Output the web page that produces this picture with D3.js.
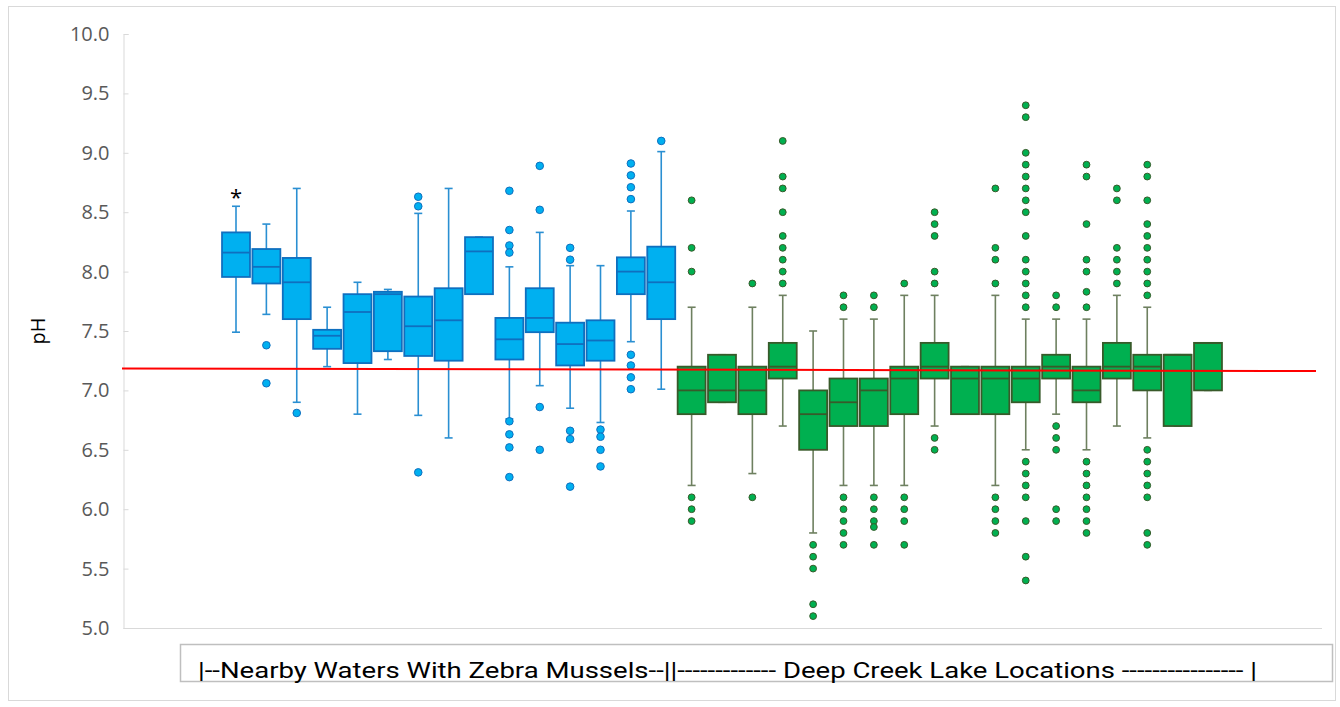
<!DOCTYPE html>
<html>
<head>
<meta charset="utf-8">
<script src="https://cdn.jsdelivr.net/npm/d3@7"></script>
<style>
  body { margin: 0; background: #fff; }
  svg { display: block; }
</style>
</head>
<body>
<div id="chart"></div>
<script>
// sites: first 15 are nearby waters with zebra mussels, last 18 are Deep Creek Lake
const sites = d3.range(1, 16).map(i => "N" + i).concat(d3.range(1, 19).map(i => "D" + i));
const siteGroup = sites.map(s => s[0] === "N" ? "nearby" : "lake");

const whiskerLow  = [7.49, 7.64, 6.90, 7.20, 6.80, 7.26, 6.79, 6.60, 7.81, 6.76, 7.04, 6.85, 6.73, 7.41, 7.01,
                     6.2, 6.9, 6.3, 6.7, 5.8, 6.2, 6.2, 6.2, 6.7, 6.8, 6.2, 6.5, 6.8, 6.5, 6.7, 6.6, 6.7, 7.0];
const q1          = [7.955, 7.90, 7.60, 7.35, 7.23, 7.33, 7.29, 7.25, 7.81, 7.26, 7.49, 7.21, 7.25, 7.81, 7.60,
                     6.8, 6.9, 6.8, 7.1, 6.5, 6.7, 6.7, 6.8, 7.1, 6.8, 6.8, 6.9, 7.1, 6.9, 7.1, 7.0, 6.7, 7.0];
const median      = [8.16, 8.04, 7.91, 7.46, 7.66, 7.81, 7.54, 7.59, 8.17, 7.43, 7.61, 7.39, 7.42, 8.00, 7.91,
                     7.0, 7.0, 7.0, 7.2, 6.8, 6.9, 7.0, 7.1, 7.2, 7.1, 7.1, 7.1, 7.2, 7.0, 7.2, 7.2, 7.3, 7.4];
const q3          = [8.33, 8.19, 8.115, 7.51, 7.81, 7.83, 7.79, 7.86, 8.29, 7.61, 7.86, 7.57, 7.59, 8.12, 8.21,
                     7.2, 7.3, 7.2, 7.4, 7.0, 7.1, 7.1, 7.2, 7.4, 7.2, 7.2, 7.2, 7.3, 7.2, 7.4, 7.3, 7.3, 7.4];
const whiskerHigh = [8.55, 8.40, 8.70, 7.70, 7.91, 7.85, 8.49, 8.70, 8.29, 8.04, 8.33, 8.05, 8.05, 8.51, 9.01,
                     7.7, 7.3, 7.7, 7.8, 7.5, 7.6, 7.6, 7.8, 7.8, 7.2, 7.8, 7.6, 7.6, 7.6, 7.8, 7.7, 7.3, 7.4];
const outliers = [
  [], [7.38, 7.06], [6.81], [], [], [], [8.63, 8.55, 6.31], [], [],
  [8.68, 8.35, 8.22, 8.16, 6.74, 6.63, 6.52, 6.27],
  [8.89, 8.52, 6.86, 6.50],
  [8.20, 8.10, 6.66, 6.59, 6.19],
  [6.67, 6.61, 6.50, 6.36],
  [8.91, 8.81, 8.71, 8.61, 7.30, 7.21, 7.11, 7.01],
  [9.10],
  [8.6, 8.2, 8.0, 6.1, 6.0, 5.9],
  [],
  [7.9, 6.1],
  [9.1, 8.8, 8.7, 8.5, 8.3, 8.2, 8.1, 8.0, 7.9],
  [5.7, 5.6, 5.5, 5.2, 5.1],
  [7.8, 7.7, 6.1, 6.0, 5.9, 5.8, 5.7],
  [7.8, 7.7, 6.1, 6.0, 5.9, 5.85, 5.7],
  [7.9, 6.1, 6.0, 5.9, 5.7],
  [8.5, 8.4, 8.3, 8.0, 7.9, 6.6, 6.5],
  [],
  [8.7, 8.2, 8.1, 7.9, 6.1, 6.0, 5.9, 5.8],
  [9.4, 9.3, 9.0, 8.9, 8.8, 8.7, 8.6, 8.5, 8.3, 8.1, 8.0, 7.9, 7.8, 7.7, 6.4, 6.3, 6.2, 6.1, 5.9, 5.6, 5.4],
  [7.8, 7.7, 6.7, 6.6, 6.5, 6.0, 5.9],
  [8.9, 8.8, 8.4, 8.1, 8.0, 7.83, 7.7, 6.4, 6.3, 6.2, 6.1, 6.0, 5.9, 5.8],
  [8.7, 8.6, 8.2, 8.1, 8.0, 7.9],
  [8.9, 8.8, 8.6, 8.4, 8.3, 8.2, 8.1, 8.0, 7.9, 7.8, 6.5, 6.4, 6.3, 6.2, 6.1, 5.8, 5.7],
  [],
  []
];

const yTicks = [5.0, 5.5, 6.0, 6.5, 7.0, 7.5, 8.0, 8.5, 9.0, 9.5, 10.0];
const refLine = [7.185, 7.163];   // red reference line, left and right ends
const starredSite = "N1";
const groupLabel = "|--Nearby Waters With Zebra Mussels--||------------- Deep Creek Lake Locations ---------------- |";

const width = 1340, height = 707;
const plot = { left: 123.5, right: 1322, top: 34, bottom: 628 };

const colors = {
  nearby: { fill: "#00b0f0", stroke: "#0f6fbf", whisker: "#2a8fd2" },
  lake:   { fill: "#00b050", stroke: "#385a2a", whisker: "#6e8060" }
};

const svg = d3.select("#chart").append("svg")
  .attr("width", width).attr("height", height);

// chart frame
svg.append("rect")
  .attr("x", 8.5).attr("y", 6.5).attr("width", 1327).attr("height", 694)
  .attr("fill", "#fff").attr("stroke", "#d9d9d9");

let y = d3.scaleLinear().domain([5, 10]).range([plot.bottom, plot.top]);
let x = d3.scaleBand().domain(sites).range([219.6, 1224.4]).padding(0.08);

// y axis
const yAxis = svg.append("g")
  .attr("transform", `translate(${plot.left},0)`)
  .call(d3.axisLeft(y).tickValues(yTicks).tickFormat(d3.format(".1f")).tickSize(-5).tickPadding(14));
yAxis.select(".domain").attr("stroke", "#d9d9d9");
yAxis.selectAll(".tick line").attr("stroke", "#d9d9d9");
yAxis.selectAll(".tick text")
  .attr("fill", "#595959")
  .style("font-family", "'Open Sans', 'Noto Sans', sans-serif")
  .style("font-size", "20px");

// x axis line (no labels)
svg.append("line")
  .attr("x1", plot.left).attr("x2", plot.right)
  .attr("y1", plot.bottom + 0.5).attr("y2", plot.bottom + 0.5)
  .attr("stroke", "#d9d9d9");

svg.append("text")
  .attr("transform", `translate(45, ${y(7.5)}) rotate(-90)`)
  .attr("text-anchor", "middle")
  .style("font-family", "'Open Sans', 'Noto Sans', sans-serif")
  .style("font-size", "20px")
  .attr("fill", "#000")
  .text("pH");

// flatten stats into one record per site
const boxes = sites.map((s, i) => ({
  site: s, group: siteGroup[i],
  lo: whiskerLow[i], q1: q1[i], med: median[i], q3: q3[i], hi: whiskerHigh[i],
  out: outliers[i]
}));

const bw = x.bandwidth();
const cap = 8;

const g = svg.selectAll(".box").data(boxes).enter().append("g")
  .attr("class", "box")
  .attr("transform", d => `translate(${x(d.site)},0)`);

// whiskers
g.append("line")
  .attr("x1", bw / 2).attr("x2", bw / 2)
  .attr("y1", d => y(d.hi)).attr("y2", d => y(d.lo))
  .attr("stroke", d => colors[d.group].whisker).attr("stroke-width", 1.6);
g.append("line")
  .attr("x1", bw / 2 - cap / 2).attr("x2", bw / 2 + cap / 2)
  .attr("y1", d => y(d.hi)).attr("y2", d => y(d.hi))
  .attr("stroke", d => colors[d.group].whisker).attr("stroke-width", 1.6);
g.append("line")
  .attr("x1", bw / 2 - cap / 2).attr("x2", bw / 2 + cap / 2)
  .attr("y1", d => y(d.lo)).attr("y2", d => y(d.lo))
  .attr("stroke", d => colors[d.group].whisker).attr("stroke-width", 1.6);

// boxes
g.append("rect")
  .attr("x", 0).attr("width", bw)
  .attr("y", d => y(d.q3))
  .attr("height", d => y(d.q1) - y(d.q3))
  .attr("fill", d => colors[d.group].fill)
  .attr("stroke", d => colors[d.group].stroke)
  .attr("stroke-width", 1.8);

// medians
g.append("line")
  .attr("x1", 0).attr("x2", bw)
  .attr("y1", d => y(d.med)).attr("y2", d => y(d.med))
  .attr("stroke", d => colors[d.group].stroke).attr("stroke-width", 1.8);

// outliers
g.selectAll("circle")
  .data(d => d.out.map(v => ({ v: v, group: d.group })))
  .enter().append("circle")
  .attr("cx", bw / 2)
  .attr("cy", d => y(d.v))
  .attr("r", d => d.group === "nearby" ? 3.8 : 3.4)
  .attr("fill", d => colors[d.group].fill)
  .attr("stroke", d => colors[d.group].stroke)
  .attr("stroke-width", 1);

// reference line
svg.append("line")
  .attr("x1", 122).attr("x2", 1316)
  .attr("y1", y(refLine[0])).attr("y2", y(refLine[1]))
  .attr("stroke", "#ff0000").attr("stroke-width", 2);

// asterisk on first site
svg.append("text")
  .attr("x", x(starredSite) + bw / 2)
  .attr("y", y(whiskerHigh[0]) - 1)
  .attr("text-anchor", "middle")
  .style("font-family", "'Open Sans', sans-serif")
  .style("font-size", "22px")
  .text("*");

// group label box
svg.append("rect")
  .attr("x", 180.5).attr("y", 644.5).attr("width", 1152).attr("height", 37)
  .attr("fill", "#fff").attr("stroke", "#bfbfbf").attr("stroke-width", 1.5);
svg.append("text")
  .attr("x", 198).attr("y", 678)
  .attr("textLength", 1059).attr("lengthAdjust", "spacingAndGlyphs")
  .style("font-family", "'Liberation Sans Narrow', 'Roboto', sans-serif")
  .style("font-size", "22px")
  .attr("fill", "#000")
  .text(groupLabel);
</script>
</body>
</html>
